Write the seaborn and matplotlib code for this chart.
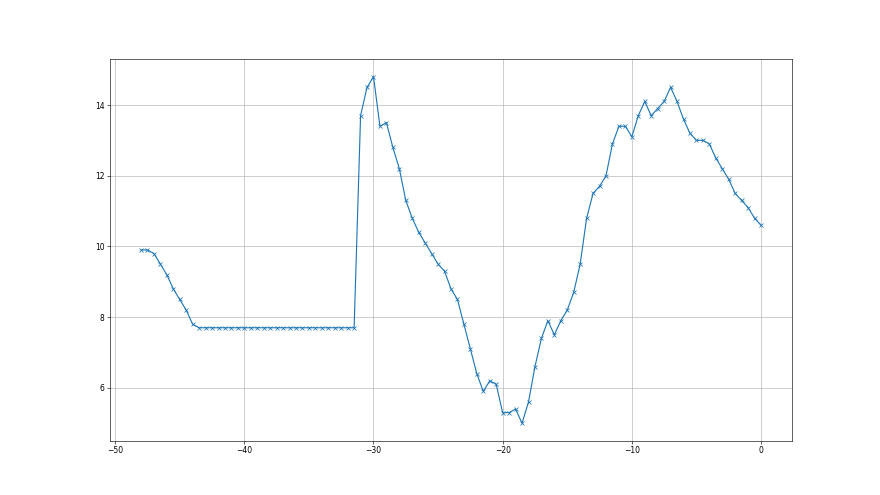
import pandas as pd
import matplotlib
matplotlib.use("Agg")
import matplotlib.pyplot as plt
import seaborn as sns

# sample times (half-step grid)
time = [-48.0, -47.5, -47.0, -46.5, -46.0, -45.5, -45.0, -44.5, -44.0, -43.5,
        -43.0, -42.5, -42.0, -41.5, -41.0, -40.5, -40.0, -39.5, -39.0, -38.5,
        -38.0, -37.5, -37.0, -36.5, -36.0, -35.5, -35.0, -34.5, -34.0, -33.5,
        -33.0, -32.5, -32.0, -31.5, -31.0, -30.5, -30.0, -29.5, -29.0, -28.5,
        -28.0, -27.5, -27.0, -26.5, -26.0, -25.5, -25.0, -24.5, -24.0, -23.5,
        -23.0, -22.5, -22.0, -21.5, -21.0, -20.5, -20.0, -19.5, -19.0, -18.5,
        -18.0, -17.5, -17.0, -16.5, -16.0, -15.5, -15.0, -14.5, -14.0, -13.5,
        -13.0, -12.5, -12.0, -11.5, -11.0, -10.5, -10.0, -9.5, -9.0, -8.5,
        -8.0, -7.5, -7.0, -6.5, -6.0, -5.5, -5.0, -4.5, -4.0, -3.5,
        -3.0, -2.5, -2.0, -1.5, -1.0, -0.5, 0.0]

# measured values
values = [9.9, 9.9, 9.8, 9.5, 9.2, 8.8, 8.5, 8.2, 7.8, 7.7,
          7.7, 7.7, 7.7, 7.7, 7.7, 7.7, 7.7, 7.7, 7.7, 7.7,
          7.7, 7.7, 7.7, 7.7, 7.7, 7.7, 7.7, 7.7, 7.7, 7.7,
          7.7, 7.7, 7.7, 7.7, 13.7, 14.5, 14.8, 13.4, 13.5, 12.8,
          12.2, 11.3, 10.8, 10.4, 10.1, 9.8, 9.5, 9.3, 8.8, 8.5,
          7.8, 7.1, 6.4, 5.9, 6.2, 6.1, 5.3, 5.3, 5.4, 5.0,
          5.6, 6.6, 7.4, 7.9, 7.5, 7.9, 8.2, 8.7, 9.5, 10.8,
          11.5, 11.7, 12.0, 12.9, 13.4, 13.4, 13.1, 13.7, 14.1, 13.7,
          13.9, 14.1, 14.5, 14.1, 13.6, 13.2, 13.0, 13.0, 12.9, 12.5,
          12.2, 11.9, 11.5, 11.3, 11.1, 10.8, 10.6]

df = pd.DataFrame({"time": time, "value": values})

fig, ax = plt.subplots(figsize=(16, 9), dpi=55)

sns.lineplot(data=df, x="time", y="value", ax=ax, color="C0",
             marker="x", mec="C0", mew=1.0, ms=6, linewidth=1.5)

ax.grid(True, color="#b0b0b0", linewidth=0.8)
ax.set_xlabel("")
ax.set_ylabel("")

fig.savefig("out.png", dpi=55)
